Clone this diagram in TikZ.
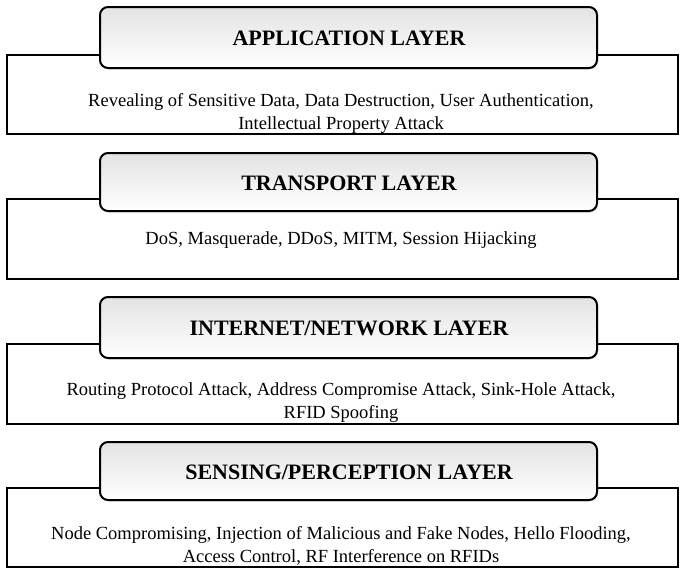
\documentclass[tikz,border=0pt]{standalone}
\usepackage{fontspec}
\setmainfont{Liberation Serif}
\usetikzlibrary{shadows}
\begin{document}
\begin{tikzpicture}[x=1pt,y=-1pt,
 body/.style={draw,line width=1.6pt,fill=white},
 head/.style={draw,line width=2pt,rounded corners=8pt,top color=gray!22,bottom color=white,drop shadow={opacity=0.25,shadow xshift=1pt,shadow yshift=-1.5pt}},
 htxt/.style={font=\bfseries\fontsize{22}{26}\selectfont},
 btxt/.style={font=\fontsize{18.5}{23}\selectfont,align=center}]
\useasboundingbox (0,0) rectangle (685,576);
\foreach \t/\hb/\rt/\b/\ty/\h/\txt/\n in {7/68/55/134/113/{APPLICATION LAYER}/{Revealing of Sensitive Data, Data Destruction, User Authentication,\\Intellectual Property Attack}/a,
153/211/199/279/240/{TRANSPORT LAYER}/{DoS, Masquerade, DDoS, MITM, Session Hijacking}/b,
297/358/344/424/403/{INTERNET/NETWORK LAYER}/{Routing Protocol Attack, Address Compromise Attack, Sink-Hole Attack,\\RFID Spoofing}/c,
442/500/488/567/546/{SENSING/PERCEPTION LAYER}/{Node Compromising, Injection of Malicious and Fake Nodes, Hello Flooding,\\Access Control, RF Interference on RFIDs}/d}{
 \draw[body] (7,\rt) rectangle (678,\b);
 \node[btxt] (t\n) at (341,\ty) {\txt};
 \draw[head] (100,\t) rectangle (597,\hb);
 \node[htxt] (h\n) at (349,{(\t+\hb)/2+1}) {\h};
}
\end{tikzpicture}
\end{document}
